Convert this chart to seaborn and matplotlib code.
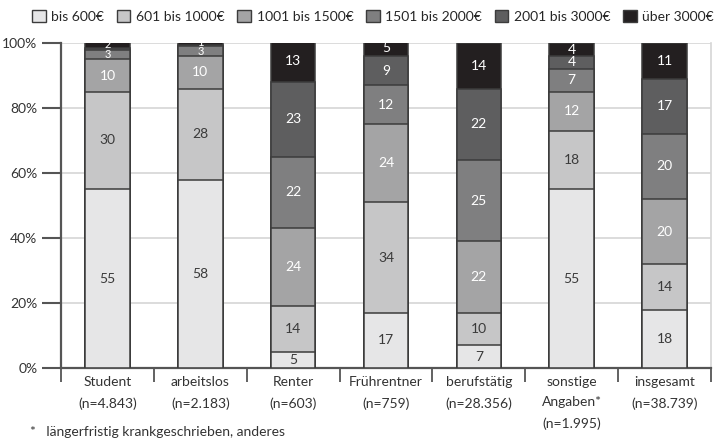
import matplotlib
matplotlib.use("Agg")
import matplotlib.pyplot as plt
import matplotlib.transforms as mtransforms
import seaborn as sns
import pandas as pd
import numpy as np
from matplotlib.patches import Patch

categories = ["Student\n(n=4.843)", "arbeitslos\n(n=2.183)", "Renter\n(n=603)",
              "Frührentner\n(n=759)", "berufstätig\n(n=28.356)",
              "sonstige\nAngaben*\n(n=1.995)", "insgesamt\n(n=38.739)"]
levels = ["bis 600€", "601 bis 1000€", "1001 bis 1500€", "1501 bis 2000€",
          "2001 bis 3000€", "über 3000€"]

bis600    = [55, 58, 5, 17, 7, 55, 18]
b601_1000 = [30, 28, 14, 34, 10, 18, 14]
b1001_1500 = [10, 10, 24, 24, 22, 12, 20]
b1501_2000 = [3, 3, 22, 12, 25, 7, 20]
b2001_3000 = [0.5, 0.5, 23, 9, 22, 4, 17]
ueber3000 = [2, 1, 13, 5, 14, 4, 11]

# printed labels (None = no label)
lab_2001_3000 = [None, None, 23, 9, 22, 4, 17]

series = [bis600, b601_1000, b1001_1500, b1501_2000, b2001_3000, ueber3000]
labels = [bis600, b601_1000, b1001_1500, b1501_2000, lab_2001_3000, ueber3000]
colors = ["#e6e6e7", "#c6c6c7", "#a4a4a5", "#7f7f80", "#5e5e5f", "#231f20"]
text_colors = ["#3a3a3a", "#3a3a3a", "white", "white", "white", "white"]
edge = "#3c3c3c"

sns.set_theme(style="white")
plt.rcParams["font.family"] = ["Lato", "DejaVu Sans"]

fig = plt.figure(figsize=(7.28, 4.41), dpi=100)
ax = fig.add_axes([61/728, 1-368/441, 650/728, 325/441])

arr = np.array(series, dtype=float)
cum = np.cumsum(arr, axis=0)

for i in range(len(levels) - 1, -1, -1):
    d = pd.DataFrame({"cat": categories, "val": cum[i]})
    sns.barplot(data=d, x="cat", y="val", order=categories, color=colors[i],
                saturation=1, width=0.48, edgecolor=edge, linewidth=1.1,
                ax=ax, zorder=3)

for i in range(len(levels)):
    for j in range(len(categories)):
        lab = labels[i][j]
        if lab is None:
            continue
        y = cum[i][j] - arr[i][j] / 2
        fs = 8 if arr[i][j] <= 3 else 10
        ax.text(j, y, f"{lab:g}", ha="center", va="center", fontsize=fs,
                color=text_colors[i], zorder=5)

ax.set_xlim(-0.5, 6.5)
ax.set_ylim(0, 100)
ax.set_xlabel("")
ax.set_ylabel("")
ax.set_yticks([0, 20, 40, 60, 80, 100])
ax.set_yticklabels(["0%", "20%", "40%", "60%", "80%", "100%"], fontsize=10, color="#333333")
ax.yaxis.grid(True, color="#d6d6d6", linewidth=1.2, zorder=0)
ax.set_axisbelow(True)
ax.tick_params(axis="y", left=True, length=14, width=1.5, color="#555555", pad=3)

# category labels drawn as text below the axis
ax.set_xticks(np.arange(-0.5, 7, 1))
ax.set_xticklabels([])
ax.tick_params(axis="x", bottom=True, length=10, width=1.3, color="#555555")
trans = mtransforms.blended_transform_factory(ax.transData, ax.transAxes)
for j, c in enumerate(categories):
    ax.text(j, -8/325, c, transform=trans, ha="center", va="top", fontsize=10,
            color="#333333", linespacing=1.85)

ax.spines["top"].set_visible(False)
ax.spines["right"].set_color("#d6d6d6")
ax.spines["right"].set_linewidth(1.2)
ax.spines["left"].set_color("#555555")
ax.spines["left"].set_linewidth(1.6)
ax.spines["bottom"].set_color("#555555")
ax.spines["bottom"].set_linewidth(1.6)

handles = [Patch(facecolor=c, edgecolor=edge, linewidth=1) for c in colors]
fig.legend(handles, levels, loc="upper left", bbox_to_anchor=(22/728, 1.0), ncol=6,
           frameon=False, fontsize=10, handlelength=1.0, handleheight=1.0,
           handletextpad=0.4, columnspacing=0.9, borderaxespad=0.3)

fig.text(30/728, 1-432/441, "*   längerfristig krankgeschrieben, anderes", fontsize=10,
         color="#333333", va="center")

fig.savefig("out.png", dpi=100)
